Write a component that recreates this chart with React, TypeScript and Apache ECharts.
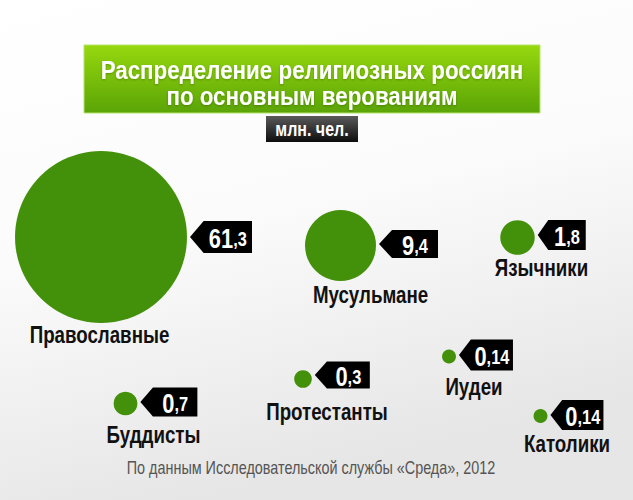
import React, { useEffect, useRef } from "react";
import * as echarts from "echarts";

// ---- data ----
const categories = ["Православные", "Мусульмане", "Язычники", "Буддисты", "Протестанты", "Иудеи", "Католики"];
const values = [61.3, 9.4, 1.8, 0.7, 0.3, 0.14, 0.14];
const valueLabels = ["61,3", "9,4", "1,8", "0,7", "0,3", "0,14", "0,14"];
const titleLines = ["Распределение религиозных россиян", "по основным верованиям"];
const unitLabel = "млн. чел.";
const sourceNote = "По данным Исследовательской службы «Среда», 2012";

// ---- layout (canvas coordinates 633x500): cx, cy, tagW, tagH, tagDy, nameDx, nameDy ----
const layout = [
  [101, 237, 62, 32, 0, -1.5, 98.5],
  [340.5, 245.5, 59, 28, -1.5, 30, 50],
  [517.5, 237.5, 48, 30, -2.5, 24, 31],
  [125.5, 403.5, 57, 29, -1.5, 28, 31.5],
  [303, 379, 55, 27, -4, 24, 33],
  [449, 356.5, 54, 31, -1.5, 25, 31],
  [540.5, 416, 53, 30, -1, 26.5, 28.5],
];

const FONT = "'Liberation Sans', Arial, sans-serif";
const SX = 0.78;
const TAG_PATH = "path://M0,50L22,0L100,0L100,100L22,100Z";

const diameter = (v: number) => 6 + 21.2 * Math.sqrt(v);

export default function App() {
  const ref = useRef<HTMLDivElement>(null);
  useEffect(() => {
    document.body.style.margin = "0";
    if (!ref.current) return;
    const chart = echarts.init(ref.current, null, { renderer: "svg" });

    const bubbleData = categories.map((name, i) => {
      const [cx, cy] = layout[i];
      return { name, value: [cx, cy, values[i]] };
    });

    const tagData = categories.map((name, i) => {
      const [cx, cy, w, h, tdy] = layout[i];
      const r = diameter(values[i]) / 2;
      return {
        name,
        value: [cx, cy, values[i]],
        symbolSize: [w, h],
        symbolOffset: [r + 3 + w / 2, tdy],
      };
    });

    chart.setOption({
      animation: false,
      backgroundColor: {
        type: "linear",
        x: 0, y: 0, x2: 0.3, y2: 1,
        colorStops: [
          { offset: 0, color: "#ffffff" },
          { offset: 0.5, color: "#fbfbfb" },
          { offset: 1, color: "#e6e6e6" },
        ],
      },
      grid: { left: 0, right: 0, top: 0, bottom: 0 },
      xAxis: { type: "value", min: 0, max: 633, show: false },
      yAxis: { type: "value", min: 0, max: 500, inverse: true, show: false },
      series: [
        {
          type: "scatter",
          data: bubbleData,
          symbol: "circle",
          symbolSize: (val: number[]) => diameter(val[2]),
          itemStyle: { color: "#43900a", opacity: 1 },
          z: 2,
        },
        {
          type: "scatter",
          data: tagData,
          symbol: TAG_PATH,
          itemStyle: { color: "#000000", opacity: 1 },
          z: 3,
        },
      ],
    });

    const labelGraphics: any[] = [];
    categories.forEach((name, i) => {
      const [cx, cy, w, , tdy, ndx, ndy] = layout[i];
      const p = chart.convertToPixel({ gridIndex: 0 }, [cx, cy]) as number[];
      const r = diameter(values[i]) / 2;
      labelGraphics.push({
        type: "text",
        x: p[0] + ndx, y: p[1] + ndy, scaleX: SX, z: 10,
        style: {
          text: name, fill: "#111111", font: `bold 24px ${FONT}`,
          textAlign: "center", textVerticalAlign: "middle",
        },
      });
      const s = valueLabels[i];
      const k = s.indexOf(",");
      labelGraphics.push({
        type: "text",
        x: p[0] + r + 3 + w / 2 + w * 0.11, y: p[1] + tdy + 1, scaleX: SX, z: 10,
        style: {
          text: `{a|${s.slice(0, k)}}{b|${s.slice(k)}}`,
          textAlign: "center", textVerticalAlign: "middle",
          rich: {
            a: { fill: "#fff", fontFamily: FONT, fontWeight: "bold", fontSize: 28, lineHeight: 28, verticalAlign: "bottom" },
            b: { fill: "#fff", fontFamily: FONT, fontWeight: "bold", fontSize: 21, lineHeight: 21, verticalAlign: "bottom", padding: [0, 0, 3, 0] },
          },
        },
      });
    });

    chart.setOption({
      graphic: [
        {
          type: "rect",
          shape: { x: 84, y: 45, width: 456, height: 68 },
          style: {
            fill: {
              type: "linear", x: 0, y: 0, x2: 0, y2: 1,
              colorStops: [
                { offset: 0, color: "#97d80e" },
                { offset: 1, color: "#5aa406" },
              ],
            },
            stroke: "#b5e46a",
            lineWidth: 1,
          },
        },
        {
          type: "text",
          x: 312, y: 70, scaleX: 0.86,
          style: {
            text: titleLines[0], fill: "#ffffff", font: `bold 26px ${FONT}`,
            textAlign: "center", textVerticalAlign: "middle",
            textShadowColor: "rgba(0,0,0,0.25)", textShadowBlur: 2, textShadowOffsetY: 1,
          },
        },
        {
          type: "text",
          x: 312, y: 96, scaleX: 0.86,
          style: {
            text: titleLines[1], fill: "#ffffff", font: `bold 26px ${FONT}`,
            textAlign: "center", textVerticalAlign: "middle",
            textShadowColor: "rgba(0,0,0,0.25)", textShadowBlur: 2, textShadowOffsetY: 1,
          },
        },
        {
          type: "rect",
          shape: { x: 266, y: 116, width: 92, height: 26 },
          style: {
            fill: {
              type: "linear", x: 0, y: 0, x2: 0, y2: 1,
              colorStops: [
                { offset: 0, color: "#5a5a5a" },
                { offset: 1, color: "#0d0d0d" },
              ],
            },
          },
        },
        {
          type: "text",
          x: 312, y: 129, scaleX: 0.8,
          style: {
            text: unitLabel, fill: "#ffffff", font: `bold 20px ${FONT}`,
            textAlign: "center", textVerticalAlign: "middle",
          },
        },
        {
          type: "text",
          x: 311, y: 467, scaleX: 0.8,
          style: {
            text: sourceNote, fill: "#555555", font: `18px ${FONT}`,
            textAlign: "center", textVerticalAlign: "middle",
          },
        },
        ...labelGraphics,
      ],
    });
    return () => chart.dispose();
  }, []);
  return <div ref={ref} style={{ width: 633, height: 500 }} />;
}
